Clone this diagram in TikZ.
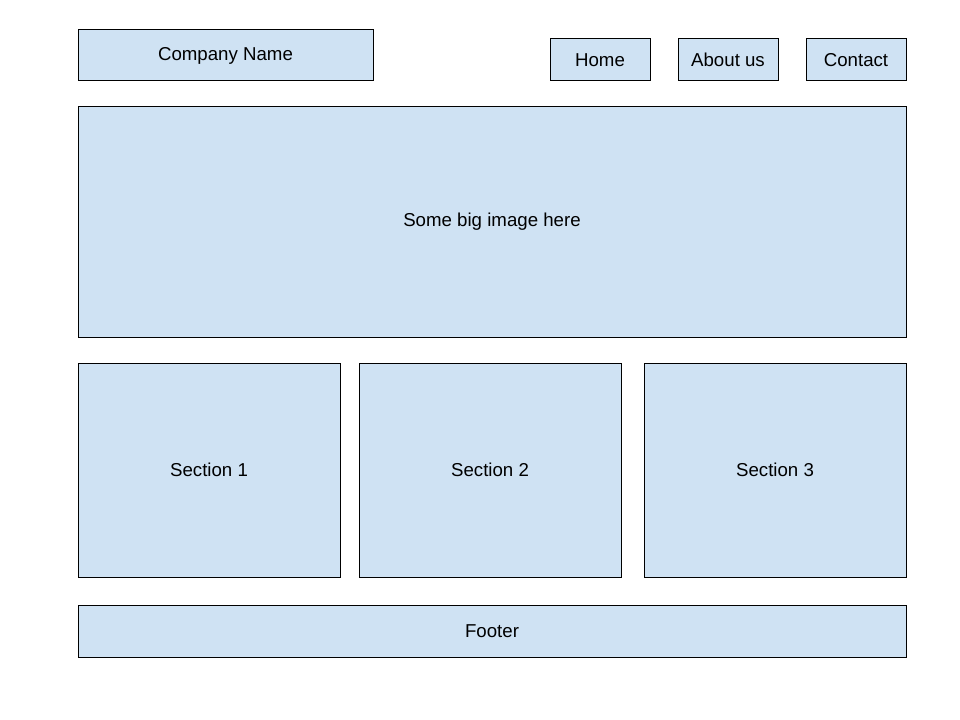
\documentclass[tikz,border=0pt]{standalone}
\usepackage{fontspec}
\setmainfont{Liberation Sans}
\definecolor{boxblue}{HTML}{CFE2F3}
\tikzset{
  wbox/.style 2 args={draw=black, fill=boxblue, line width=0.75pt, inner sep=0pt,
    minimum width=#1*0.75pt, minimum height=#2*0.75pt,
    font=\fontsize{14}{16}\selectfont}
}
\begin{document}
\begin{tikzpicture}[x=0.75pt, y=-0.75pt]
    \useasboundingbox (0,0) rectangle (960,720);
    % header
    \node [wbox={295}{51}] (company) at (225.5,55.5) {Company Name};
    \node [wbox={100}{42}] (home) at (600,60) {Home};
    \node [wbox={100}{42}] (about) at (728,60) {About us};
    \node [wbox={100}{42}] (contact) at (856,60) {Contact};
    % banner
    \node [wbox={828}{230}] (image) at (492,222) {Some big image here};
    % sections
    \node [wbox={262}{214}] (sec1) at (209,470) {Section 1};
    \node [wbox={262}{214}] (sec2) at (490,470) {Section 2};
    \node [wbox={262}{214}] (sec3) at (775,470) {Section 3};
    % footer
    \node [wbox={828}{52}] (footer) at (492,631) {Footer};
\end{tikzpicture}
\end{document}
